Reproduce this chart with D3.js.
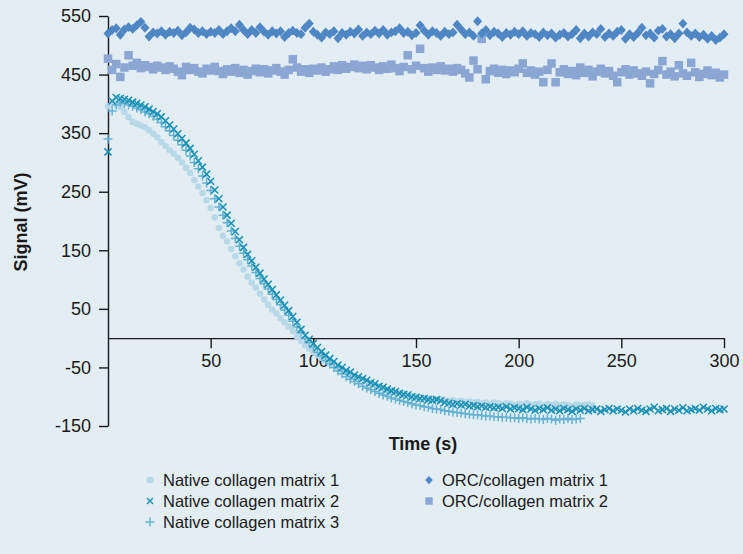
<!DOCTYPE html>
<html>
<head>
<meta charset="utf-8">
<script src="https://cdn.jsdelivr.net/npm/d3@7"></script>
<style>
  html, body { margin: 0; padding: 0; background: #e3edf4; }
  #chart { width: 743px; height: 554px; }
  text { font-family: "Liberation Sans", Arial, Helvetica, sans-serif; fill: #1a1a1a; }
</style>
</head>
<body>
<div id="chart"></div>
<script>
// sampling interval of every series (s)
const step = 2;

const xTicks = [50, 100, 150, 200, 250, 300];
const yTicks = [-150, -50, 50, 150, 250, 350, 450, 550];

const seriesNames = [
    "Native collagen matrix 1",
    "Native collagen matrix 2",
    "Native collagen matrix 3",
    "ORC/collagen matrix 1",
    "ORC/collagen matrix 2"
];

// Native collagen matrix 1 (circles), t = 0..236
const native1 = [
    396, 401, 399, 394, 386, 377, 369, 366, 363, 360,
    355, 349, 343, 335, 328, 321, 315, 308, 300, 291,
    282, 270, 259, 248, 236, 222, 206, 188, 175, 165,
    152, 140, 128, 117, 105, 95, 86, 76, 66, 57,
    49, 42, 34, 27, 20, 12, 3, -5, -12, -18,
    -24, -29, -34, -38, -42, -46, -50, -54, -58, -62,
    -65, -68, -71, -74, -77, -80, -83, -85, -88, -90,
    -92, -94, -96, -98, -99, -100, -101, -102, -103, -104,
    -105, -104, -106, -107, -106, -108, -107, -109, -108, -110,
    -109, -111, -110, -112, -110, -111, -113, -111, -112, -114,
    -112, -113, -111, -114, -113, -112, -115, -113, -114, -112,
    -115, -113, -114, -116, -113, -115, -114, -113, -115
];

// Native collagen matrix 2 (x marks), t = 0..300
const native2 = [
    318, 405, 411, 409, 408, 406, 403, 401, 398, 395,
    391, 387, 383, 378, 371, 364, 357, 349, 341, 333,
    324, 314, 303, 292, 280, 268, 253, 238, 224, 210,
    196, 182, 168, 155, 143, 132, 121, 111, 101, 92,
    83, 74, 65, 56, 47, 37, 27, 15, 5, -2,
    -9, -16, -23, -29, -35, -40, -46, -50, -55, -58,
    -63, -66, -69, -72, -76, -78, -82, -84, -87, -90,
    -91, -94, -96, -97, -100, -101, -103, -103, -105, -106,
    -105, -107, -110, -111, -113, -112, -114, -113, -116, -115,
    -117, -116, -118, -117, -119, -118, -120, -117, -121, -119,
    -120, -122, -118, -121, -123, -120, -122, -119, -123, -121,
    -124, -120, -122, -125, -121, -123, -120, -124, -122, -121,
    -125, -122, -120, -124, -121, -123, -126, -121, -124, -120,
    -123, -125, -121, -118, -124, -122, -120, -125, -121, -123,
    -119, -124, -122, -120, -123, -118, -121, -124, -120, -122,
    -121
];

// Native collagen matrix 3 (plus marks), t = 0..230
const native3 = [
    340, 388, 398, 402, 400, 398, 396, 393, 390, 386,
    383, 379, 374, 368, 361, 354, 346, 338, 330, 321,
    311, 300, 289, 277, 265, 252, 238, 224, 210, 197,
    183, 170, 157, 145, 134, 123, 112, 102, 93, 84,
    75, 66, 57, 48, 39, 29, 19, 9, 0, -8,
    -16, -24, -31, -38, -44, -50, -56, -61, -66, -70,
    -74, -78, -82, -85, -88, -91, -94, -97, -99, -102,
    -104, -106, -108, -110, -112, -114, -115, -117, -118, -120,
    -121, -122, -124, -125, -126, -127, -128, -129, -130, -131,
    -131, -132, -133, -133, -134, -134, -135, -135, -136, -136,
    -137, -136, -137, -138, -137, -138, -139, -137, -138, -140,
    -138, -139, -137, -139, -138, -137
];

// ORC/collagen matrix 1 (diamonds), t = 0..300
const orc1 = [
    520, 526, 529, 518, 527, 531, 528, 534, 540, 530,
    515, 522, 520, 524, 518, 523, 521, 525, 517, 522,
    530, 527, 521, 524, 519, 523, 521, 526, 519, 524,
    529, 524, 535, 526, 519, 526, 521, 531, 523, 518,
    524, 520, 524, 514, 521, 525, 521, 519, 530, 537,
    523, 518, 513, 522, 519, 524, 512, 521, 518, 523,
    520, 527, 516, 522, 519, 525, 520, 526, 518, 522,
    524, 529, 521, 523, 517, 521, 534, 525, 518, 524,
    521, 516, 523, 519, 522, 535, 527, 519, 522, 516,
    541, 520, 526, 517, 523, 520, 514, 521, 518, 523,
    519, 524, 516, 521, 519, 514, 522, 517, 520, 513,
    518, 521, 515, 519, 526, 512, 520, 515, 522, 519,
    528, 514, 520, 516, 523, 526, 511, 519, 514, 521,
    530, 517, 520, 513, 525, 528, 515, 519, 512, 520,
    537, 522, 516, 520, 514, 518, 511, 516, 509, 513,
    519
];

// ORC/collagen matrix 2 (squares), t = 0..300
const orc2 = [
    477, 458, 468, 446, 462, 483, 465, 470, 461, 466,
    463, 459, 465, 462, 458, 464, 460, 455, 449, 463,
    458, 461, 455, 452, 460, 457, 463, 456, 451, 459,
    455, 461, 453, 458, 450, 456, 460, 454, 459, 452,
    457, 461, 455, 450, 458, 476, 462, 455, 459, 453,
    460, 457, 462, 455, 459, 464, 458, 466, 460, 463,
    467, 461, 465, 459, 466, 462, 458, 464, 460, 467,
    461, 456, 463, 483, 459, 465, 494, 461, 455, 462,
    458, 464, 457, 460, 455, 461, 458, 452, 445, 474,
    459, 511, 442, 456, 460, 453, 458, 451, 457, 454,
    460, 469, 453, 457, 450, 455, 437, 458, 469, 437,
    454, 459, 451, 456, 449, 462, 453, 458, 447, 455,
    460, 452, 456, 448, 437, 454, 459, 450, 457, 452,
    448, 455, 435, 451, 458, 473, 450, 455, 447, 466,
    452, 448, 470, 454, 446, 451, 457, 449, 453, 445,
    450
];

const colors = ["#b8d8e8", "#1790b5", "#64b2d3", "#4f86c4", "#8ba6d3"];

// marker shapes; size = overall width in px
const crossType = {
    draw(ctx, size) {
        const r = size / 2;
        ctx.moveTo(-r, 0); ctx.lineTo(r, 0);
        ctx.moveTo(0, -r); ctx.lineTo(0, r);
    }
};
const timesType = {
    draw(ctx, size) {
        const r = size / 2;
        ctx.moveTo(-r, -r); ctx.lineTo(r, r);
        ctx.moveTo(-r, r); ctx.lineTo(r, -r);
    }
};
const diamondType = {
    draw(ctx, size) {
        const w = size / 2, h = size / 2 * 1.1;
        ctx.moveTo(0, -h); ctx.lineTo(w, 0); ctx.lineTo(0, h); ctx.lineTo(-w, 0); ctx.closePath();
    }
};
const squareType = {
    draw(ctx, size) {
        const r = size / 2;
        ctx.rect(-r, -r, size, size);
    }
};
const circleType = {
    draw(ctx, size) {
        const r = size / 2;
        ctx.moveTo(r, 0); ctx.arc(0, 0, r, 0, 2 * Math.PI);
    }
};

const markers = [
    { type: circleType, size: 6.5, fill: true },
    { type: timesType, size: 7, fill: false },
    { type: crossType, size: 9, fill: false },
    { type: diamondType, size: 9, fill: true },
    { type: squareType, size: 8.5, fill: true }
];
const legendSizes = [7, 6, 9, 7.5, 7.5];

const svg = d3.select("#chart").append("svg")
    .attr("width", 743)
    .attr("height", 554);

svg.append("rect")
    .attr("width", 743)
    .attr("height", 554)
    .attr("fill", "#e3edf4");

const x = d3.scaleLinear().domain([0, 300]).range([108, 724]);
const y = d3.scaleLinear().domain([-150, 550]).range([426, 16]);

// axes
const yAxis = svg.append("g")
    .attr("transform", `translate(${x(0)},0)`)
    .call(d3.axisLeft(y).tickValues(yTicks).tickSize(9).tickSizeOuter(0).tickPadding(8)
        .tickFormat(d => String(d)));

const xAxis = svg.append("g")
    .attr("transform", `translate(0,${y(0)})`)
    .call(d3.axisBottom(x).tickValues(xTicks).tickSize(10).tickSizeOuter(0).tickPadding(6)
        .tickFormat(d => String(d)));

[xAxis, yAxis].forEach(g => {
    g.selectAll("path, line").attr("stroke", "#1a1a1a").attr("stroke-width", 1.4);
    g.selectAll("text").style("font-size", "18px").attr("fill", "#1a1a1a")
        .style("font-family", "'Liberation Sans', Arial, sans-serif");
});

// data points: draw order native 1, native 3, native 2, ORC 2, ORC 1
const dataSets = [native1, native2, native3, orc1, orc2];
[0, 2, 1, 4, 3].forEach(i => {
    const vals = dataSets[i];
    const m = markers[i];
    const sym = d3.symbol().type(m.type).size(m.size);
    svg.append("g")
        .selectAll("path")
        .data(vals.map((v, k) => ({ t: k * step, v })))
        .join("path")
        .attr("transform", d => `translate(${x(d.t)},${y(d.v)})`)
        .attr("d", sym)
        .attr("fill", m.fill ? colors[i] : "none")
        .attr("stroke", m.fill ? "none" : colors[i])
        .attr("stroke-width", m.fill ? 0 : 1.5);
});

// axis titles
svg.append("text")
    .attr("x", 423)
    .attr("y", 450)
    .attr("text-anchor", "middle")
    .style("font-size", "18px")
    .style("font-weight", "bold")
    .text("Time (s)");

svg.append("text")
    .attr("transform", "translate(27,222) rotate(-90)")
    .attr("text-anchor", "middle")
    .style("font-size", "18px")
    .style("font-weight", "bold")
    .text("Signal (mV)");

// legend
const legendPos = [
    { x: 150, y: 480 }, { x: 150, y: 501 }, { x: 150, y: 522 },
    { x: 429, y: 480 }, { x: 429, y: 501 }
];

const legend = svg.append("g");
seriesNames.forEach((name, i) => {
    const m = markers[i];
    const p = legendPos[i];
    legend.append("path")
        .attr("transform", `translate(${p.x},${p.y})`)
        .attr("d", d3.symbol().type(m.type).size(legendSizes[i]))
        .attr("fill", m.fill ? colors[i] : "none")
        .attr("stroke", m.fill ? "none" : colors[i])
        .attr("stroke-width", m.fill ? 0 : 1.4);
    legend.append("text")
        .attr("x", p.x + 13)
        .attr("y", p.y + 6)
        .style("font-size", "16.5px")
        .text(name);
});
</script>
</body>
</html>
